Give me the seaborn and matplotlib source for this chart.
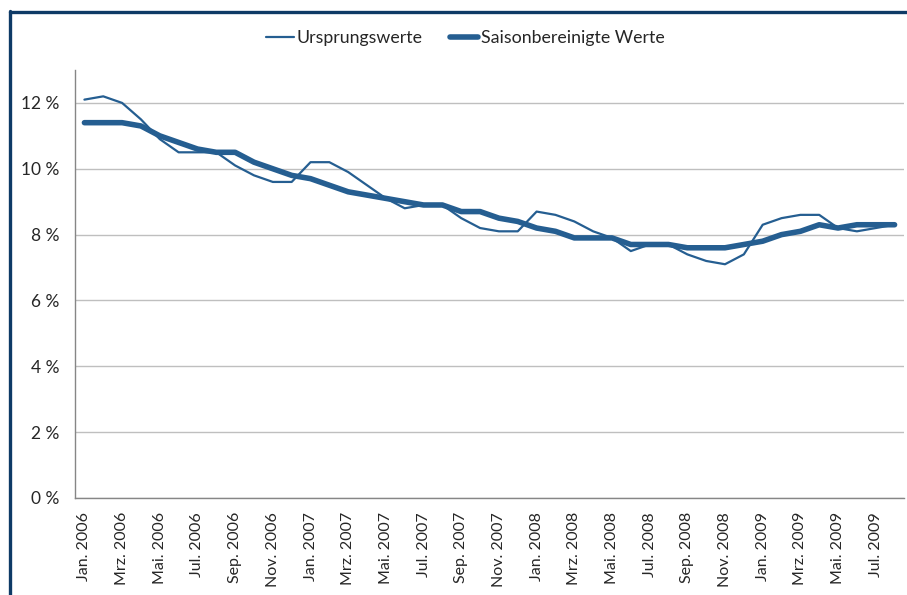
import numpy as np
import pandas as pd
import matplotlib.pyplot as plt
import seaborn as sns

# Monatsnamen (Achsenbeschriftung)
month_names = ['Jan.', 'Feb.', 'Mrz.', 'Apr.', 'Mai.', 'Jun.',
               'Jul.', 'Aug.', 'Sep.', 'Okt.', 'Nov.', 'Dez.']
years = [2006, 2007, 2008, 2009]
months = [f'{m} {y}' for y in years for m in month_names][:44]

# Arbeitslosenquote in %
ursprungswerte = [
    12.1, 12.2, 12.0, 11.5, 10.9, 10.5, 10.5, 10.5, 10.1, 9.8, 9.6, 9.6,
    10.2, 10.2, 9.9, 9.5, 9.1, 8.8, 8.9, 8.9, 8.5, 8.2, 8.1, 8.1,
    8.7, 8.6, 8.4, 8.1, 7.9, 7.5, 7.7, 7.7, 7.4, 7.2, 7.1, 7.4,
    8.3, 8.5, 8.6, 8.6, 8.2, 8.1, 8.2, 8.3,
]
saisonbereinigt = [
    11.4, 11.4, 11.4, 11.3, 11.0, 10.8, 10.6, 10.5, 10.5, 10.2, 10.0, 9.8,
    9.7, 9.5, 9.3, 9.2, 9.1, 9.0, 8.9, 8.9, 8.7, 8.7, 8.5, 8.4,
    8.2, 8.1, 7.9, 7.9, 7.9, 7.7, 7.7, 7.7, 7.6, 7.6, 7.6, 7.7,
    7.8, 8.0, 8.1, 8.3, 8.2, 8.3, 8.3, 8.3,
]
y_ticks = [0, 2, 4, 6, 8, 10, 12]

line_color = '#255E91'
text_color = '#262626'

sns.set_style('white')
plt.rcParams['font.family'] = ['Lato', 'DejaVu Sans']

fig = plt.figure(figsize=(9.07, 5.95), dpi=100)
ax = fig.add_axes([75 / 907, 1 - 498 / 595, (904 - 75) / 907, (498 - 70) / 595])

pos = np.arange(len(months))
sns.lineplot(x=pos, y=ursprungswerte, ax=ax, color=line_color, linewidth=1.6,
             label='Ursprungswerte')
sns.lineplot(x=pos, y=saisonbereinigt, ax=ax, color=line_color, linewidth=4.0,
             label='Saisonbereinigte Werte', solid_capstyle='round')

# Achsen
ax.set_xlim(-0.5, len(months) - 0.5)
ax.set_ylim(0, 13)
ax.set_yticks(y_ticks)
ax.set_yticklabels([f'{v} %' for v in y_ticks], fontsize=12.5, color=text_color)
ax.yaxis.grid(True, color='#BFBFBF', linewidth=1)
ax.set_axisbelow(True)
ax.tick_params(axis='y', length=4.3, color='#BFBFBF', pad=7)

ax.set_xticks(pos[::2])
ax.set_xticklabels(months[::2], rotation=90, fontsize=11.5, color=text_color)
ax.set_xticks(np.arange(-0.5, len(months)), minor=True)
ax.tick_params(axis='x', which='major', length=0, pad=10)
ax.tick_params(axis='x', which='minor', length=3.6, color='#868686', direction='out')

for side in ['top', 'right']:
    ax.spines[side].set_visible(False)
for side in ['left', 'bottom']:
    ax.spines[side].set_color('#868686')
    ax.spines[side].set_linewidth(1)

leg = ax.legend(loc='center', bbox_to_anchor=(0.4705, 1.075), ncol=2, frameon=False,
                fontsize=12.8, handlelength=1.6, handletextpad=0.12, columnspacing=1.55)
for t in leg.get_texts():
    t.set_color(text_color)

# Rahmen oben und links
fig.add_artist(plt.Line2D([9.5 / 907, 1], [1 - 11.5 / 595, 1 - 11.5 / 595],
                          color='#0E3A66', linewidth=2.4, transform=fig.transFigure))
fig.add_artist(plt.Line2D([9.5 / 907, 9.5 / 907], [0, 1 - 10.5 / 595],
                          color='#0E3A66', linewidth=2.4, transform=fig.transFigure))

fig.savefig('out.png', dpi=100)
